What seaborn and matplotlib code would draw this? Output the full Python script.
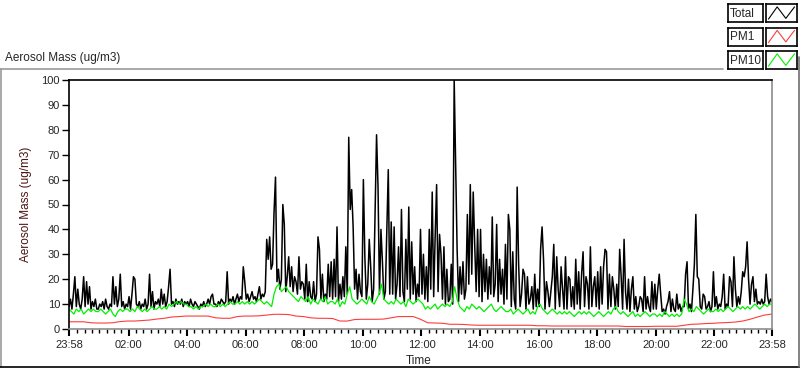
"""
Aerosol mass over one day (LabVIEW style chart) with seaborn.
"""

import numpy as np
import pandas as pd
import seaborn as sns
import matplotlib.pyplot as plt
from matplotlib.lines import Line2D

# Total mass, one value every 3 minutes from 23:58 (20 values per hour)
total = [
    9, 12, 8, 14, 21, 9, 16, 10, 8, 12, 21, 9, 19, 10, 17, 8, 11, 9, 12, 8,
    8, 10, 9, 11, 8, 12, 9, 8, 10, 9, 21, 10, 17, 9, 12, 22, 9, 11, 8, 10,
    9, 13, 8, 14, 21, 20, 10, 9, 11, 8, 10, 9, 12, 8, 10, 22, 9, 15, 8, 11,
    10, 12, 9, 16, 10, 14, 9, 11, 17, 24, 10, 11, 9, 12, 10, 11, 10, 12, 9, 11,
    10, 11, 9, 12, 10, 9, 11, 10, 9, 8, 10, 9, 11, 9, 10, 12, 10, 13, 14, 10,
    10, 9, 11, 10, 12, 11, 10, 11, 23, 10, 12, 11, 13, 10, 12, 14, 11, 13, 12, 25,
    19, 12, 14, 11, 13, 15, 12, 13, 11, 14, 17, 12, 14, 13, 15, 36, 28, 37, 24, 26,
    47, 61, 19, 24, 16, 20, 50, 42, 15, 21, 29, 17, 25, 15, 21, 19, 14, 29, 16, 19,
    18, 12, 26, 11, 19, 13, 12, 19, 11, 14, 37, 32, 12, 22, 11, 14, 12, 26, 13, 27,
    12, 28, 13, 41, 11, 18, 12, 21, 13, 33, 14, 77, 48, 56, 41, 16, 24, 12, 22, 15,
    13, 60, 29, 12, 18, 36, 25, 11, 16, 47, 78, 57, 14, 40, 27, 12, 15, 40, 64, 14,
    43, 14, 41, 12, 18, 33, 13, 48, 15, 11, 36, 16, 49, 12, 35, 14, 25, 11, 18, 13,
    40, 14, 30, 12, 25, 11, 40, 16, 55, 13, 37, 58, 15, 38, 30, 12, 33, 10, 24, 11,
    12, 26, 10, 100, 67, 32, 11, 25, 14, 27, 12, 16, 46, 18, 58, 22, 55, 34, 15, 40,
    13, 40, 11, 30, 15, 28, 12, 25, 14, 45, 13, 18, 42, 11, 28, 14, 24, 10, 34, 12,
    46, 40, 9, 31, 12, 8, 57, 26, 9, 14, 24, 22, 8, 21, 10, 12, 17, 8, 22, 9,
    16, 9, 32, 41, 28, 8, 19, 15, 9, 15, 21, 34, 8, 29, 16, 9, 25, 16, 8, 29,
    8, 21, 20, 9, 17, 8, 28, 10, 23, 8, 22, 31, 9, 21, 18, 8, 33, 9, 17, 21,
    9, 23, 8, 25, 10, 25, 32, 31, 8, 22, 9, 21, 16, 8, 18, 9, 32, 21, 8, 36,
    15, 8, 20, 7, 16, 21, 8, 13, 7, 9, 13, 12, 7, 21, 8, 13, 9, 7, 19, 8,
    18, 8, 16, 22, 14, 7, 8, 6, 9, 11, 15, 7, 12, 8, 7, 14, 8, 10, 7, 9,
    9, 22, 27, 8, 10, 7, 16, 26, 46, 21, 20, 9, 8, 14, 13, 8, 9, 11, 7, 9,
    23, 9, 13, 8, 10, 9, 13, 22, 8, 10, 9, 21, 19, 9, 29, 16, 9, 13, 10, 15,
    23, 21, 25, 35, 20, 10, 18, 21, 11, 16, 10, 11, 10, 12, 10, 11, 22, 13, 10, 12,
    11,
]

# PM10, one value every 5 minutes (12 per hour)
pm10 = [
    8, 7, 6, 8, 7, 8, 6, 7, 8, 7, 8, 7,
    7, 8, 7, 6, 7, 8, 6, 5, 7, 8, 7, 8,
    8, 7, 8, 7, 9, 8, 7, 8, 7, 8, 9, 8,
    8, 9, 8, 9, 8, 10, 9, 10, 11, 10, 11, 10,
    10, 9, 9, 8, 9, 8, 9, 9, 10, 9, 10, 9,
    9, 10, 9, 10, 9, 10, 11, 10, 10, 11, 10, 11,
    10, 11, 10, 11, 10, 11, 12, 11, 10, 11, 10, 9,
    14, 17, 18, 15, 16, 17, 15, 14, 13, 12, 11, 13,
    12, 11, 13, 10, 12, 11, 10, 12, 11, 13, 10, 11,
    11, 10, 12, 9, 11, 10, 14, 17, 12, 11, 10, 11,
    12, 11, 10, 13, 11, 10, 12, 14, 18, 12, 11, 10,
    11, 10, 12, 11, 10, 11, 9, 12, 11, 10, 11, 12,
    11, 10, 8, 9, 8, 9, 10, 8, 9, 10, 9, 10,
    9, 11, 17, 12, 9, 8, 7, 9, 8, 10, 9, 8,
    9, 8, 7, 8, 9, 10, 8, 7, 8, 9, 8, 7,
    7, 8, 6, 7, 8, 7, 6, 7, 8, 6, 7, 6,
    9, 10, 8, 7, 6, 7, 8, 7, 6, 7, 6, 7,
    6, 7, 6, 5, 6, 7, 6, 7, 6, 7, 6, 5,
    6, 7, 6, 5, 6, 7, 6, 8, 9, 7, 6, 7,
    6, 5, 6, 7, 5, 6, 5, 6, 7, 6, 5, 6,
    6, 5, 6, 5, 7, 6, 5, 6, 5, 6, 5, 6,
    12, 10, 7, 8, 7, 9, 8, 7, 6, 7, 8, 7,
    7, 8, 7, 8, 7, 8, 9, 8, 7, 8, 9, 8,
    9, 8, 9, 8, 9, 10, 9, 8, 9, 10, 9, 10,
    10,
]

# PM1, one value every 15 minutes (4 per hour)
pm1 = [
    2.9, 2.9, 2.9, 2.5, 2.4, 2.4, 2.5, 3.0, 3.2, 3.2, 3.4, 3.6,
    4.0, 4.3, 4.8, 5.0, 5.2, 5.2, 5.2, 5.2, 4.5, 4.3, 4.3, 5.0,
    5.2, 5.2, 5.3, 5.6, 5.9, 5.9, 5.8, 5.2, 5.0, 4.5, 4.3, 4.3,
    4.2, 3.2, 3.2, 3.8, 3.9, 3.9, 3.9, 4.0, 4.5, 5.0, 5.0, 5.0,
    3.9, 2.5, 2.4, 2.3, 1.9, 1.9, 1.8, 1.6, 1.5, 1.5, 1.5, 1.5,
    1.5, 1.5, 1.5, 1.5, 1.3, 1.3, 1.2, 1.2, 1.2, 1.2, 1.2, 1.2,
    1.2, 1.2, 1.2, 1.2, 1.0, 1.0, 1.0, 1.0, 1.1, 1.1, 1.1, 1.1,
    1.5, 1.9, 2.0, 2.2, 2.3, 2.5, 2.6, 2.8, 3.2, 3.9, 4.8, 5.6,
    6.0,
]

tick_minutes = [0, 122, 242, 362, 482, 602, 722, 842, 962, 1082, 1202, 1322, 1440]
tick_labels = ["23:58", "02:00", "04:00", "06:00", "08:00", "10:00", "12:00",
               "14:00", "16:00", "18:00", "20:00", "22:00", "23:58"]

series = [
    ("Total", total, 3, "#000000", 1.1),
    ("PM1", pm1, 15, "#ff3c3c", 0.8),
    ("PM10", pm10, 5, "#00f000", 0.9),
]

W, H = 800, 369

sns.set_style("white")
plt.rcParams["font.family"] = ["Liberation Sans", "DejaVu Sans"]

fig = plt.figure(figsize=(W / 100, H / 100), dpi=100)
ax = fig.add_axes([69 / W, 1 - 329 / H, 703 / W, 249 / H])

for name, values, step, color, lw in series:
    df = pd.DataFrame({"minute": np.arange(len(values)) * step, "mass": values})
    sns.lineplot(data=df, x="minute", y="mass", ax=ax, color=color,
                 linewidth=lw, estimator=None)

ax.set_xlim(0, 1440)
ax.set_ylim(0, 100)
ax.set_xlabel("")
ax.set_ylabel("")

ax.set_yticks(range(0, 101, 10))
ax.set_xticks(tick_minutes)
ax.set_xticklabels(tick_labels)
ax.set_xticks([m for m in range(17, 1440, 15) if min(abs(m - t) for t in tick_minutes) > 4],
              minor=True)
ax.tick_params(axis="y", direction="out", length=5, width=1, color="black",
               labelsize=8, pad=1.5, left=True)
ax.tick_params(axis="x", which="major", direction="out", length=5, width=1.5,
               color="black", labelsize=8, pad=3, bottom=True)
ax.tick_params(axis="x", which="minor", direction="out", length=3, width=1,
               color="black", bottom=True)

for side in ["left", "top"]:
    ax.spines[side].set_color("black")
    ax.spines[side].set_linewidth(1.2)
for side in ["right", "bottom"]:
    ax.spines[side].set_color("#8c8c8c")
    ax.spines[side].set_linewidth(1.2)

# texts
fig.text(5 / W, 1 - 58 / H, "Aerosol Mass (ug/m3)", fontsize=8.5, va="center")
fig.text(26 / W, 1 - 204 / H, "Aerosol Mass (ug/m3)", fontsize=8.5, rotation=90,
         va="center", ha="center", color="#4a1212")
fig.text(419 / W, 1 - 361 / H, "Time", fontsize=8.5, va="center", ha="center")

# outer frame of the chart
frame = [
    ((0, 723), (69, 69), "#9a9a9a"),
    ((1, 1), (69, 367), "#9a9a9a"),
    ((0, 800), (367, 367), "#000000"),
    ((799, 799), (57, 367), "#6e6e6e"),
]
for xs, ys, color in frame:
    fig.add_artist(Line2D([x / W for x in xs], [1 - y / H for y in ys],
                          transform=fig.transFigure, color=color, linewidth=1.2))

# legend boxes
for i, (name, values, step, color, lw) in enumerate(series):
    top = 4 + i * 23.5
    lab_ax = fig.add_axes([728 / W, 1 - (top + 18) / H, 35 / W, 18 / H])
    smp_ax = fig.add_axes([766 / W, 1 - (top + 18) / H, 31 / W, 18 / H])
    for a in (lab_ax, smp_ax):
        a.set_xticks([])
        a.set_yticks([])
        a.set_xlim(0, 1)
        a.set_ylim(0, 1)
        for sp in a.spines.values():
            sp.set_color("black")
            sp.set_linewidth(1.2)
    lab_ax.text(0.06, 0.47, name, fontsize=8.5, va="center", ha="left")
    smp_ax.plot([0.08, 0.36, 0.64, 0.92], [0.16, 0.84, 0.2, 0.84],
                color=color, linewidth=0.8)

fig.savefig("out.png", dpi=100)
